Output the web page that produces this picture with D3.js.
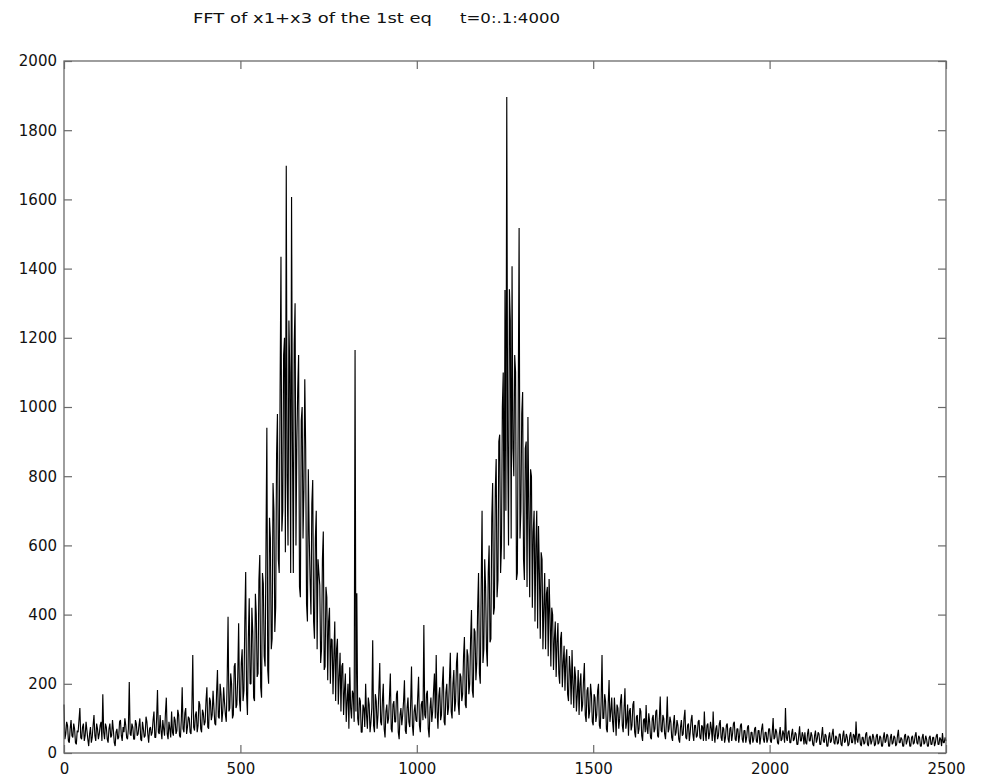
<!DOCTYPE html>
<html>
<head>
<meta charset="utf-8">
<script src="https://cdn.jsdelivr.net/npm/d3@7"></script>
<style>
  html, body { margin: 0; padding: 0; background: #fff; }
  svg { display: block; }
  text { font-family: "DejaVu Sans", "Liberation Sans", sans-serif; fill: #111; }
</style>
</head>
<body>
<svg id="chart" width="982" height="781"></svg>
<script>
// ---- data, one value every 2.5 frequency units ----
const titleLeft = "FFT of x1+x3 of the 1st eq";
const titleRight = "t=0:.1:4000";
const sampleStep = 2.5;
const xTicks = [0, 500, 1000, 1500, 2000, 2500];
const yTicks = [0, 200, 400, 600, 800, 1000, 1200, 1400, 1600, 1800, 2000];

const amp0000 = [
 140,40,55,90,80,35,30,70,95,50,45,85,70,30,25,65,60,95,130,45,40,75,85,35,50,90,65,40,20,55,75,30,45,80,110,50,35,85,70,40,
 55,80,90,35,170,60,40,85,75,40,30,70,85,45,50,95,65,30,20,60,70,40,45,90,95,50,35,75,60,100,80,45,40,70,205,55,50,85,75,40,
 40,95,85,50,55,80,100,40,35,90,70,45,50,105,90,55,30,70,75,50,60,95,120,45,45,100,182,60,55,110,65,40,95,70,50,115,160,55,40,90,
 70,45,120,60,50,105,95,55,65,125,110,50,45,95,190,70,60,115,130,55,75,105,100,60,55,130,283,75,65,110,120,60,80,150,140,70,60,125,115,80,
 90,150,190,75,70,160,150,95,110,180,130,85,80,175,240,105,100,200,170,90,120,190,145,110,90,210,394,120,130,230,200,100,110,250,260,130,140,220,375,150];
const amp0500 = [
 120,260,300,150,180,380,523,170,110,330,447,200,200,420,350,160,150,460,400,220,230,500,572,190,160,520,490,280,250,600,940,240,200,680,620,300,330,780,700,350,
 420,860,980,560,520,1050,1434,640,700,1150,1200,580,1697,800,600,1250,1100,520,1607,900,520,1180,1300,600,900,1050,1150,480,450,960,1000,620,760,1080,880,430,380,820,630,500,
 400,720,789,380,330,620,700,300,560,520,485,260,300,560,640,240,250,480,450,210,380,420,200,330,327,170,280,380,150,300,330,140,220,290,120,250,260,110,180,230,
 90,150,200,70,248,130,100,180,170,90,1165,120,462,100,80,160,150,60,60,140,130,75,200,110,70,160,140,60,90,130,326,80,60,170,150,70,110,180,260,90,
 80,150,200,70,45,120,140,85,100,160,230,70,60,140,150,90,90,170,180,60,40,110,130,80,110,150,210,65,55,130,160,90,75,140,250,80,50,120,140,95];
const amp1000 = [
 90,160,220,80,60,140,150,95,370,110,100,170,180,70,45,130,160,90,120,180,230,100,283,120,70,165,190,95,110,200,250,90,80,175,200,110,130,210,290,120,
 100,200,240,120,150,260,290,140,110,230,220,150,170,280,335,140,130,300,280,170,200,330,413,180,160,360,350,210,260,420,520,230,200,480,700,260,300,560,480,300,
 250,520,600,320,330,680,780,400,420,760,850,450,500,900,920,520,600,1000,1100,560,1338,700,1896,900,600,1340,1250,620,1407,880,800,1150,1100,500,520,1000,1517,620,700,980,
 1043,560,500,880,900,480,971,700,450,820,800,420,639,700,380,600,700,360,656,520,330,580,560,300,420,520,300,460,480,280,503,400,250,420,400,240,330,380,220,320,
 376,230,200,330,350,190,260,310,180,270,300,170,150,280,240,140,298,200,130,250,220,120,170,240,110,200,230,120,140,210,260,110,90,180,190,100,120,200,170,90];
const amp1500 = [
 80,170,160,90,110,180,200,80,70,150,283,100,100,170,150,70,60,140,211,90,120,160,90,60,160,110,50,140,130,70,100,150,170,80,60,130,187,70,90,140,
 50,120,130,65,80,140,150,60,45,105,110,55,70,130,120,50,35,95,100,60,139,70,55,115,90,45,40,100,110,60,70,120,125,50,45,100,163,65,60,110,
 100,55,40,90,163,60,70,105,90,45,35,85,110,50,60,95,80,40,30,75,95,50,55,100,125,45,40,80,85,35,60,95,110,55,35,80,80,45,50,90,
 95,45,40,80,75,35,120,60,35,80,85,40,55,90,70,35,120,55,30,70,80,40,50,85,95,45,35,75,70,30,45,80,85,40,30,70,75,35,55,85,
 90,40,35,70,70,30,50,80,85,40,30,65,65,30,45,75,80,35,25,60,60,30,40,70,75,35,30,65,65,25,45,70,85,40,30,60,60,30,40,70];
const amp2000 = [
 70,35,30,60,101,40,45,70,60,30,25,55,75,35,40,65,55,30,130,45,35,60,65,30,30,55,70,35,40,60,55,25,25,50,77,35,35,60,50,25,
 60,30,25,55,70,35,35,60,50,25,20,50,65,30,40,60,55,25,25,50,75,35,30,55,50,20,20,45,60,30,35,55,70,30,25,50,45,25,30,55,
 55,25,20,50,65,30,35,55,45,20,25,50,60,30,30,55,50,25,91,40,30,55,55,25,20,45,45,25,30,55,60,25,20,45,50,25,35,55,45,20,
 25,50,55,25,30,50,45,20,20,45,60,30,35,55,50,20,20,45,55,25,30,50,45,20,25,50,67,30,30,45,40,20,20,50,55,25,35,50,45,20,
 20,45,50,25,30,50,60,30,25,50,45,20,20,45,55,25,30,50,40,20,20,45,50,25,25,45,45,20,30,50,55,25,25,45,40,20,58,30,30,45,
 35];

const amplitude = [].concat(amp0000, amp0500, amp1000, amp1500, amp2000);

// ---- layout ----
const svg = d3.select("#chart");
const plotL = 64, plotR = 946, plotT = 61, plotB = 753;
const x = d3.scaleLinear().domain([0, 2500]).range([plotL, plotR]);
const y = d3.scaleLinear().domain([0, 2000]).range([plotB, plotT]);

// data line
const line = d3.line()
  .x((d, i) => x(i * sampleStep))
  .y(d => y(d));

svg.append("path")
  .datum(amplitude)
  .attr("fill", "none")
  .attr("stroke", "#000")
  .attr("stroke-width", 1.15)
  .attr("stroke-linejoin", "bevel")
  .attr("d", line);

// axes with inward ticks
const axisColor = "#6a6a6a";
const fontSize = 15;

const gL = svg.append("g").attr("transform", `translate(${plotL},0)`)
  .call(d3.axisLeft(y).tickValues(yTicks).tickSize(-8).tickPadding(7).tickFormat(d3.format("d")));
const gR = svg.append("g").attr("transform", `translate(${plotR},0)`)
  .call(d3.axisRight(y).tickValues(yTicks).tickSize(-8).tickFormat(""));
const gB = svg.append("g").attr("transform", `translate(0,${plotB})`)
  .call(d3.axisBottom(x).tickValues(xTicks).tickSize(-8).tickPadding(10).tickFormat(d3.format("d")));
const gT = svg.append("g").attr("transform", `translate(0,${plotT})`)
  .call(d3.axisTop(x).tickValues(xTicks).tickSize(-8).tickFormat(""));

[gL, gR, gB, gT].forEach(g => {
  g.select(".domain").remove();
  g.selectAll(".tick line").attr("stroke", axisColor).attr("stroke-width", 1.2);
  g.selectAll(".tick text")
    .attr("font-family", "DejaVu Sans, Liberation Sans, sans-serif")
    .attr("font-size", fontSize)
    .attr("fill", "#111");
});

// box
svg.append("rect")
  .attr("x", plotL).attr("y", plotT)
  .attr("width", plotR - plotL).attr("height", plotB - plotT)
  .attr("fill", "none")
  .attr("stroke", axisColor)
  .attr("stroke-width", 1.3);

// title
svg.append("text")
  .attr("x", 193).attr("y", 23)
  .attr("font-size", 14)
  .attr("textLength", 239).attr("lengthAdjust", "spacingAndGlyphs")
  .text(titleLeft);
svg.append("text")
  .attr("x", 460).attr("y", 23)
  .attr("font-size", 14)
  .attr("textLength", 100).attr("lengthAdjust", "spacingAndGlyphs")
  .text(titleRight);
</script>
</body>
</html>
